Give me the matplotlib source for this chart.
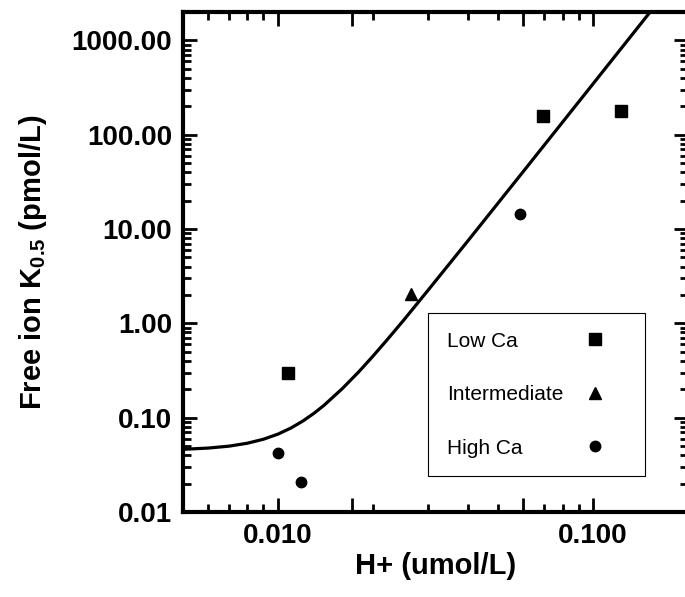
import matplotlib
matplotlib.use('Agg')
import matplotlib.pyplot as plt
from matplotlib.ticker import FixedLocator, FixedFormatter, LogLocator, NullFormatter
from matplotlib.offsetbox import HPacker, TextArea

plt.rcParams['font.family'] = ['Liberation Sans', 'DejaVu Sans']
plt.rcParams['mathtext.fontset'] = 'custom'
plt.rcParams['mathtext.rm'] = 'Liberation Sans:bold'
plt.rcParams['mathtext.bf'] = 'Liberation Sans:bold'

# measured K0.5 values (pmol/L) against free H+ (umol/L)
low_ca_h = [0.0108, 0.0694, 0.1228]
low_ca_k = [0.30, 159.0, 180.0]

mid_h = [0.0264]
mid_k = [2.04]

high_ca_h = [0.0100, 0.0118, 0.0588]
high_ca_k = [0.0422, 0.0208, 14.4]

# fitted curve
fit_h = [0.005, 0.006, 0.007, 0.008, 0.009, 0.010, 0.011, 0.012, 0.013, 0.014,
         0.016, 0.018, 0.020, 0.022, 0.025, 0.030, 0.040, 0.060, 0.100, 0.155]
fit_k = [0.0462, 0.0476, 0.0499, 0.0536, 0.0591, 0.0669, 0.0777, 0.0921, 0.111, 0.135,
         0.203, 0.303, 0.447, 0.645, 1.07, 2.26, 7.44, 40.6, 347.0, 2190.0]

x_ticks = [0.01, 0.0172, 0.06, 0.1]
x_ticklabels = ['0.010', '', '', '0.100']
y_ticks = [0.01, 0.1, 1, 10, 100, 1000]
y_ticklabels = ['0.01', '0.10', '1.00', '10.00', '100.00', '1000.00']

fig = plt.figure(figsize=(6.85, 5.97), dpi=100)
ax = fig.add_axes([183 / 685, 85 / 597, 505 / 685, 500 / 597])

ax.plot(fit_h, fit_k, color='black', lw=2.3, solid_capstyle='butt')
ax.plot(low_ca_h, low_ca_k, 's', color='black', ms=8, ls='none', label='Low Ca')
ax.plot(mid_h, mid_k, '^', color='black', ms=8.5, ls='none', label='Intermediate')
ax.plot(high_ca_h, high_ca_k, 'o', color='black', ms=7.5, ls='none', label='High Ca')

ax.set_xscale('log')
ax.set_yscale('log')
ax.set_xlim(0.005, 0.2)
ax.set_ylim(0.01, 2000)

ax.xaxis.set_major_locator(FixedLocator(x_ticks))
ax.xaxis.set_major_formatter(FixedFormatter(x_ticklabels))
ax.xaxis.set_minor_locator(LogLocator(base=10, subs=range(2, 10)))
ax.xaxis.set_minor_formatter(NullFormatter())
ax.yaxis.set_major_locator(FixedLocator(y_ticks))
ax.yaxis.set_major_formatter(FixedFormatter(y_ticklabels))
ax.yaxis.set_minor_locator(LogLocator(base=10, subs=range(2, 10)))
ax.yaxis.set_minor_formatter(NullFormatter())

ax.tick_params(which='both', direction='in', top=True, right=True, width=2)
ax.tick_params(which='major', length=10, labelsize=20, pad=8)
ax.tick_params(which='minor', length=5.5)
for lab in ax.get_xticklabels() + ax.get_yticklabels():
    lab.set_fontweight('bold')
for sp in ax.spines.values():
    sp.set_linewidth(3)

ax.set_xlabel('H+ (umol/L)', fontsize=21, fontweight='bold', labelpad=2)
ax.set_ylabel(r'Free ion K$_{\mathrm{0.5}}$ (pmol/L)', fontsize=21, fontweight='bold', labelpad=16)

leg = ax.legend(loc='upper left', bbox_to_anchor=(0.485, 0.398), borderaxespad=0,
                markerfirst=False, handlelength=3.07, handletextpad=0.5, numpoints=1,
                fontsize=15, labelspacing=1.65, borderpad=0.9,
                fancybox=False, framealpha=1, edgecolor='black')
leg.get_frame().set_linewidth(0.8)
# line up the label text on the left and the markers in one column on the right
for box in leg.findobj(HPacker):
    kids = box.get_children()
    if len(kids) == 2 and isinstance(kids[0], TextArea):
        box.mode = 'expand'
        box.width = 180

fig.savefig('out.png', dpi=100)
